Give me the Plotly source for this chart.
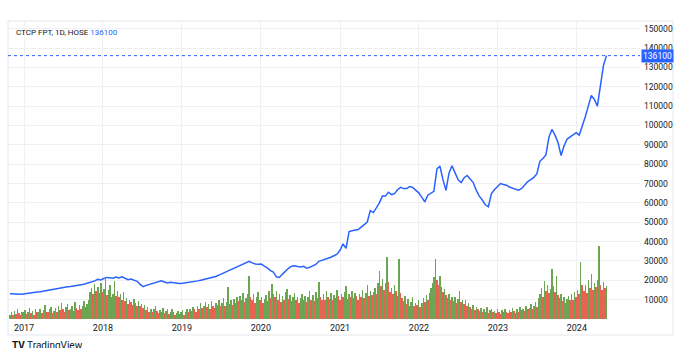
import pandas as pd
import plotly.graph_objects as go

# ---------------- data ----------------
price_start = "2016-10-28"   # biweekly closes (VND)
price = [
    13100, 13000, 12800, 12600, 12800, 13100, 13400, 13600, 13800, 14000,
    14100, 14300, 14500, 14900, 15200, 15500, 15800, 16300, 16500, 16700,
    16800, 17000, 17200, 17500, 17800, 18200, 18600, 19100, 19700, 20500,
    20200, 20900, 21500, 21300, 21100, 21700, 21200, 21800, 21200, 20300,
    20700, 20100, 19500, 17900, 16700, 17400, 17900, 18500, 18900, 19500,
    19800, 19100, 18600, 19000, 18700, 18400, 18300, 18500, 18700, 18800,
    19000, 19300, 19700, 20000, 20400, 20700, 20900, 21400, 22000, 22700,
    23400, 24100, 24700, 25400, 26200, 27000, 27800, 28400, 29200, 29800,
    29000, 28400, 28300, 28400, 27300, 26400, 25000, 24200, 21800, 21500,
    23200, 24900, 26200, 27300, 27500, 27100, 26900, 27200, 26200, 26700,
    27300, 28200, 29800, 30300, 30500, 31300, 31900, 32700, 33500, 35500,
    38800, 36500, 45200, 45600, 45900, 46200, 47500, 49000, 50100, 56000,
    55000, 57400, 60000, 63500, 63500, 65500, 64300, 64800, 66800, 68000,
    67400, 67400, 68400, 68000, 66800, 65200, 63000, 60500, 64000, 65000,
    66000, 77500, 79000, 72000, 66500, 75500, 79200, 75500, 72000, 70500,
    73000, 74200, 72500, 70500, 66500, 63500, 61500, 59000, 58000, 64800,
    66800, 68500, 70000, 69500, 69100, 68200, 67500, 67000, 66600, 67500,
    69300, 71000, 72000, 73200, 75000, 81500, 82900, 84800, 94000, 98000,
    95000, 91200, 84500, 89500, 93000, 94200, 95500, 96300, 95000, 99500,
    104500, 110000, 115500, 113500, 110000, 120500, 131000, 136100,
]

volume_start = "2016-10-28"  # weekly volume (million shares)
volume = [
    0.6, 0.9, 0.5, 1.1, 0.7, 1.4, 0.8, 0.6, 1.0, 0.9,
    1.2, 0.7, 0.9, 1.5, 0.8, 1.1, 0.6, 1.3, 0.9, 1.0,
    1.4, 0.8, 1.2, 1.9, 1.0, 0.9, 1.3, 1.6, 0.8, 1.1,
    1.5, 1.0, 1.8, 1.2, 2.2, 1.3, 1.0, 1.6, 2.0, 1.2,
    1.4, 1.8, 1.1, 2.3, 1.5, 1.2, 1.9, 1.4, 1.7, 2.4,
    1.6, 2.0, 2.6, 3.6, 4.2, 3.3, 4.7, 3.8, 4.3, 3.5,
    4.9, 3.6, 4.0, 5.4, 3.2, 3.9, 4.5, 3.0, 3.4, 5.1,
    3.1, 3.8, 2.9, 3.3, 2.5, 3.6, 2.4, 2.8, 2.0, 2.6,
    2.3, 1.9, 2.7, 2.1, 1.7, 2.4, 1.8, 2.0, 1.5, 1.9,
    1.2, 1.6, 1.0, 1.4, 0.9, 1.3, 1.7, 1.1, 0.8, 1.2,
    1.0, 1.5, 0.8, 1.1, 1.4, 0.7, 1.0, 1.3, 0.9, 0.6,
    0.8, 1.1, 0.7, 0.9, 1.2, 0.6, 0.9, 1.4, 1.0, 1.3,
    1.1, 1.6, 1.3, 1.0, 1.8, 1.4, 2.1, 1.5, 1.7, 2.3,
    1.6, 2.0, 1.4, 2.4, 1.8, 1.5, 2.2, 1.9, 2.6, 1.7,
    2.1, 2.8, 1.8, 2.3, 4.3, 2.0, 2.5, 1.9, 2.7, 2.2,
    2.9, 2.4, 3.1, 2.6, 3.5, 2.3, 2.8, 3.3, 5.8, 3.0,
    2.6, 3.4, 2.2, 2.9, 3.6, 2.5, 3.0, 2.1, 2.7, 3.2,
    2.4, 3.7, 2.8, 4.7, 3.3, 2.9, 3.8, 2.6, 3.4, 2.3,
    3.1, 2.5, 3.6, 4.0, 2.7, 3.2, 2.4, 2.9, 3.5, 2.6,
    3.0, 2.2, 2.8, 3.4, 2.5, 3.1, 2.3, 2.9, 3.7, 2.6,
    3.2, 2.4, 3.6, 2.8, 5.0, 3.0, 2.6, 3.3, 2.5, 3.8,
    3.0, 2.7, 3.5, 2.5, 3.2, 2.8, 3.9, 3.1, 2.6, 3.4,
    2.9, 3.6, 4.4, 2.7, 3.3, 3.0, 3.8, 2.8, 3.5, 3.1,
    2.6, 3.4, 3.0, 3.9, 2.8, 3.5, 4.6, 3.1, 3.7, 3.2,
    3.6, 4.2, 3.4, 4.9, 6.4, 4.4, 5.4, 3.9, 4.8, 8.3,
    5.0, 3.6, 4.2, 3.3, 4.6, 3.8, 3.1, 8.0, 3.5, 2.8,
    2.4, 3.1, 2.0, 2.7, 1.8, 2.3, 2.9, 1.7, 2.2, 1.9,
    2.5, 1.6, 2.1, 2.8, 2.3, 3.2, 2.6, 3.5, 4.2, 4.8,
    5.6, 8.0, 5.2, 4.6, 5.8, 4.3, 3.6, 4.0, 3.2, 2.8,
    3.4, 2.6, 3.0, 2.4, 2.9, 2.2, 2.7, 3.8, 2.3, 2.5,
    2.0, 2.6, 1.8, 2.2, 1.6, 1.4, 1.9, 1.2, 1.6, 1.3,
    1.1, 1.5, 0.9, 1.3, 1.0, 1.6, 0.8, 1.2, 1.4, 0.9,
    1.1, 0.8, 1.3, 1.0, 0.7, 1.2, 0.9, 1.4, 1.0, 0.8,
    1.2, 0.9, 1.5, 1.1, 0.8, 1.3, 1.0, 1.6, 1.2, 1.4,
    1.1, 1.7, 1.3, 1.5, 2.0, 1.4, 1.8, 2.3, 1.6, 2.8,
    3.4, 4.2, 3.0, 5.1, 3.8, 4.6, 3.5, 4.0, 6.7, 4.4,
    3.6, 5.8, 3.2, 2.8, 3.4, 2.4, 3.0, 2.2, 2.7, 3.1,
    2.5, 3.3, 2.6, 3.6, 2.9, 3.9, 3.4, 7.6, 4.5, 3.8,
    4.6, 3.5, 5.2, 4.1, 6.0, 3.9, 4.8, 4.3, 5.3, 9.8,
    4.6, 3.9, 5.0, 4.2, 4.4,
]

year_ticks = ["2017", "2018", "2019", "2020", "2021", "2022", "2023", "2024"]
price_ticks = [10000 * i for i in range(1, 16)]
title_text = "CTCP FPT, 1D, HOSE"

# ---------------- build ----------------
price_dates = pd.date_range(price_start, periods=len(price), freq="14D")
vol_dates = pd.date_range(volume_start, periods=len(volume), freq="7D")

UP = "rgba(84,150,52,0.85)"
DOWN = "rgba(226,72,52,0.85)"
vol_colors = [UP if k == 0 or volume[k] >= volume[k - 1] else DOWN
              for k in range(len(volume))]

BLUE = "#2962FF"
FONT = "Roboto, Open Sans, sans-serif"
TXT = "#131722"
GRID = "#eef0f4"

fig = go.Figure()
fig.add_trace(go.Bar(
    x=vol_dates, y=volume, yaxis="y",
    marker=dict(color=vol_colors, line=dict(width=0)),
    width=7 * 24 * 3600 * 1000, showlegend=False, hoverinfo="skip",
))
fig.add_trace(go.Scatter(
    x=price_dates, y=price, yaxis="y2", mode="lines",
    line=dict(color=BLUE, width=1.5), showlegend=False,
))

last = price[-1]
fig.update_layout(
    width=684, height=348,
    margin=dict(l=8, r=44, t=21, b=29),
    paper_bgcolor="white", plot_bgcolor="white",
    font=dict(family=FONT, size=9, color=TXT),
    bargap=0,
    xaxis=dict(
        type="date", range=["2016-10-19", "2024-10-19"],
        tickvals=[f"{y}-01-01" for y in year_ticks], ticktext=year_ticks,
        showgrid=True, gridcolor=GRID, gridwidth=1,
        zeroline=False, showline=False, ticks="",
        tickfont=dict(size=9, color=TXT), ticklabelstandoff=2,
    ),
    yaxis=dict(range=[0, 40], visible=False, showgrid=False, fixedrange=True),
    yaxis2=dict(
        overlaying="y", side="right", range=[0, 154000],
        tickvals=price_ticks, ticktext=[str(v) for v in price_ticks],
        showgrid=True, gridcolor=GRID, gridwidth=1,
        zeroline=False, showline=False, ticks="",
        tickfont=dict(size=8.5, color=TXT), ticklabelstandoff=3,
    ),
    shapes=[
        dict(type="line", xref="paper", yref="y2", x0=0, x1=1, y0=last, y1=last,
             line=dict(color=BLUE, width=1, dash="dot"), layer="above"),
        dict(type="rect", xref="paper", yref="paper", x0=0, x1=(673 - 8) / 632,
             y0=(319 - 335) / 298, y1=1, line=dict(color="#e3e6ec", width=1),
             fillcolor="rgba(0,0,0,0)", layer="below"),
    ],
    annotations=[
        dict(xref="paper", yref="y2", x=(641 - 8) / 632, y=last, xanchor="left",
             yanchor="middle", text=str(last), showarrow=False,
             bgcolor=BLUE, font=dict(color="white", size=8.5, family=FONT),
             borderpad=1, width=29),
        dict(xref="paper", yref="paper", x=(14 - 8) / 632, y=(319 - 32) / 298,
             xanchor="left", yanchor="middle", showarrow=False,
             text=f"{title_text} <span style='color:{BLUE}'>{last}</span>",
             font=dict(size=8, color=TXT, family=FONT)),
        dict(xref="paper", yref="paper", x=(10 - 8) / 632, y=(319 - 345) / 298,
             xanchor="left", yanchor="middle", showarrow=False,
             text="<b>TV</b> TradingView",
             font=dict(size=10, color=TXT, family=FONT)),
    ],
)

fig.write_html("out.html")
